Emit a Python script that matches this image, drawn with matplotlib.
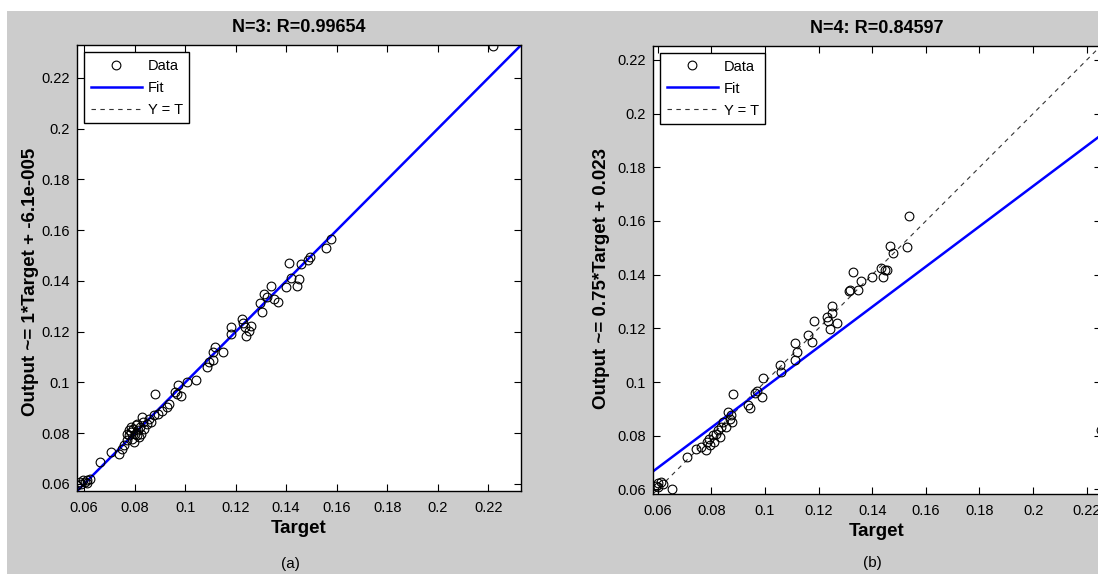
import matplotlib
matplotlib.use("Agg")
import matplotlib.pyplot as plt
from matplotlib.patches import Rectangle
import numpy as np

plt.rcParams['font.family'] = ['Liberation Sans', 'DejaVu Sans']

# ---------------- data: panel (a) ----------------
target_a = [0.0573, 0.0589, 0.0602, 0.0613, 0.0623, 0.0597, 0.0610, 0.0583,
            0.0665, 0.0705, 0.0738, 0.0751, 0.0758, 0.0771, 0.0778, 0.0784,
            0.0791, 0.0795, 0.0800, 0.0804, 0.0808, 0.0813, 0.0821, 0.0824,
            0.0830, 0.0834, 0.0811, 0.0787, 0.0778, 0.0768, 0.0797, 0.0818,
            0.0837, 0.0848, 0.0857, 0.0866, 0.0877, 0.0892, 0.0909, 0.0927,
            0.0936, 0.0881, 0.0962, 0.0972, 0.0969, 0.0985, 0.1009, 0.1042,
            0.1088, 0.1094, 0.1112, 0.1117, 0.1112, 0.1151, 0.1180, 0.1183,
            0.1226, 0.1230, 0.1241, 0.1254, 0.1236, 0.1259, 0.1295, 0.1306,
            0.1312, 0.1325, 0.1341, 0.1352, 0.1368, 0.1398, 0.1411, 0.1418,
            0.1444, 0.1451, 0.1458, 0.1487, 0.1494, 0.1556, 0.1576, 0.2218]
output_a = [0.0595, 0.0601, 0.0608, 0.0617, 0.0621, 0.0614, 0.0605, 0.0608,
            0.0686, 0.0726, 0.0719, 0.0739, 0.0755, 0.0772, 0.0791, 0.0804,
            0.0778, 0.0817, 0.0798, 0.0831, 0.0791, 0.0811, 0.0824, 0.0798,
            0.0863, 0.0844, 0.0837, 0.0824, 0.0811, 0.0798, 0.0765, 0.0785,
            0.0817, 0.0837, 0.0857, 0.0844, 0.0870, 0.0876, 0.0889, 0.0903,
            0.0916, 0.0955, 0.0961, 0.0988, 0.0955, 0.0946, 0.1000, 0.1011,
            0.1060, 0.1079, 0.1090, 0.1138, 0.1121, 0.1119, 0.1217, 0.1191,
            0.1250, 0.1234, 0.1184, 0.1204, 0.1217, 0.1221, 0.1313, 0.1276,
            0.1348, 0.1335, 0.1381, 0.1328, 0.1318, 0.1378, 0.1470, 0.1413,
            0.1381, 0.1409, 0.1466, 0.1483, 0.1496, 0.1531, 0.1564, 0.2325]
fit_a = [1.0, -6.1e-5]
lim_a = [0.0572, 0.2330]
title_a = "N=3: R=0.99654"
ylabel_a = "Output ~= 1*Target + -6.1e-005"

# ---------------- data: panel (b) ----------------
target_b = [0.0594, 0.0603, 0.0613, 0.0601, 0.0619, 0.0653, 0.0710, 0.0744,
            0.0763, 0.0781, 0.0785, 0.0790, 0.0797, 0.0806, 0.0812, 0.0819,
            0.0825, 0.0831, 0.0835, 0.0844, 0.0856, 0.0862, 0.0869, 0.0879,
            0.0881, 0.0872, 0.0937, 0.0943, 0.0962, 0.0972, 0.0989, 0.0993,
            0.1056, 0.1062, 0.1112, 0.1118, 0.1112, 0.1162, 0.1177, 0.1184,
            0.1230, 0.1237, 0.1250, 0.1243, 0.1268, 0.1250, 0.1313, 0.1317,
            0.1329, 0.1348, 0.1360, 0.1398, 0.1433, 0.1442, 0.1448, 0.1454,
            0.1467, 0.1479, 0.1529, 0.1538, 0.2253]
output_b = [0.0611, 0.0624, 0.0627, 0.0609, 0.0619, 0.0602, 0.0721, 0.0752,
            0.0758, 0.0748, 0.0777, 0.0789, 0.0765, 0.0802, 0.0777, 0.0808,
            0.0821, 0.0796, 0.0833, 0.0852, 0.0833, 0.0889, 0.0864, 0.0852,
            0.0954, 0.0877, 0.0914, 0.0902, 0.0958, 0.0968, 0.0945, 0.1016,
            0.1064, 0.1039, 0.1082, 0.1113, 0.1147, 0.1176, 0.1151, 0.1226,
            0.1244, 0.1226, 0.1284, 0.1197, 0.1219, 0.1257, 0.1341, 0.1344,
            0.1409, 0.1344, 0.1375, 0.1391, 0.1425, 0.1391, 0.1418, 0.1416,
            0.1508, 0.1481, 0.1503, 0.1618, 0.0822]
fit_b = [0.75, 0.023]
lim_b = [0.0583, 0.2253]
title_b = "N=4: R=0.84597"
ylabel_b = "Output ~= 0.75*Target + 0.023"

ticks = [0.06, 0.08, 0.1, 0.12, 0.14, 0.16, 0.18, 0.2, 0.22]
tick_labels = ["0.06", "0.08", "0.1", "0.12", "0.14", "0.16", "0.18", "0.2", "0.22"]
captions = ["(a)", "(b)"]

W, H = 1098, 574
fig = plt.figure(figsize=(W / 100, H / 100), dpi=100, facecolor='white')
fig.patches.append(Rectangle((7 / W, 0), 1.0, (H - 10.5) / H,
                             transform=fig.transFigure, facecolor='#cccccc',
                             edgecolor='none', zorder=-10))

axA = fig.add_axes([77 / W, 1 - 491 / H, 444 / W, 446 / H])
axB = fig.add_axes([653 / W, 1 - 494 / H, 448 / W, 448.3 / H])


def draw(ax, t, o, fit, lim, title, ylabel, lx, ly):
    ax.set_facecolor('white')
    x = np.array(lim)
    ax.plot(t, o, linestyle='none', marker='o', markersize=6.3,
            markerfacecolor='none', markeredgecolor='black',
            markeredgewidth=0.8, label='Data', zorder=3)
    ax.plot(x, fit[0] * x + fit[1], color='#0000ff', lw=1.8, label='Fit', zorder=2)
    ax.plot(x, x, color='#333333', lw=0.8, linestyle=(0, (4, 4)),
            label='Y = T', zorder=1)
    ax.set_xlim(lim)
    ax.set_ylim(lim)
    ax.set_xticks(ticks)
    ax.set_xticklabels(tick_labels)
    ax.set_yticks(ticks)
    ax.set_yticklabels(tick_labels)
    ax.tick_params(direction='in', length=5, width=0.8, top=True, right=True,
                   labelsize=10.5, pad=5, colors='black')
    ax.tick_params(axis='x', pad=7)
    for s in ax.spines.values():
        s.set_linewidth(1.0)
    ax.set_title(title, fontsize=13, fontweight='bold', pad=9)
    ax.set_xlabel('Target', fontsize=13.5, fontweight='bold', labelpad=4)
    ax.set_ylabel(ylabel, fontsize=13.5, fontweight='bold')
    ax.yaxis.set_label_coords(lx, ly)
    leg = ax.legend(loc='upper left', fontsize=10.5, frameon=True, fancybox=False,
                    edgecolor='black', borderaxespad=0.5, handlelength=3.5,
                    handletextpad=0.4, borderpad=0.45, labelspacing=0.55)
    leg.get_frame().set_linewidth(1.0)
    leg.get_frame().set_alpha(1.0)


draw(axA, target_a, output_a, fit_a, lim_a, title_a, ylabel_a, -0.086, 0.47)
draw(axB, target_b, output_b, fit_b, lim_b, title_b, ylabel_b, -0.096, 0.48)

fig.text(290 / W, 1 - 564 / H, captions[0], ha='center', va='center', fontsize=11)
fig.text(872 / W, 1 - 563 / H, captions[1], ha='center', va='center', fontsize=11)

fig.savefig('out.png', dpi=100, facecolor=fig.get_facecolor())
